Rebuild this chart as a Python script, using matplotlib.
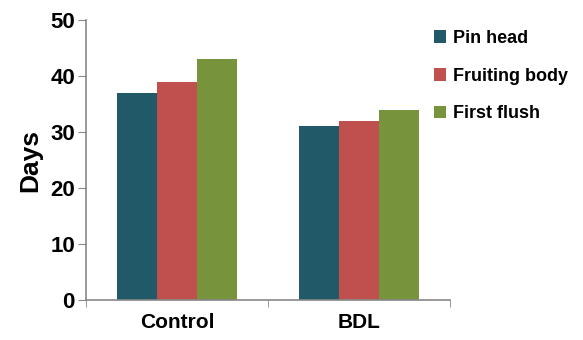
import matplotlib
matplotlib.use("Agg")
import matplotlib.pyplot as plt
import numpy as np

groups = ["Control", "BDL"]
series = ["Pin head", "Fruiting body", "First flush"]
pin_head = [37, 31]
fruiting_body = [39, 32]
first_flush = [43, 34]
colors = ["#215968", "#C0504D", "#77933C"]

plt.rcParams['font.family'] = ['Liberation Sans', 'DejaVu Sans']
plt.rcParams['font.weight'] = 'bold'

fig = plt.figure(figsize=(5.83, 3.4), dpi=100)
ax = fig.add_axes([0.1475, 0.1176, 0.6245, 0.8235])

x = np.arange(len(groups))
w = 0.22
for i, (vals, name) in enumerate(zip([pin_head, fruiting_body, first_flush], series)):
    ax.bar(x + (i - 1) * w, vals, width=w, color=colors[i], label=name)

ax.set_xlim(-0.5, 1.5)
ax.set_ylim(0, 50)
ax.set_yticks(range(0, 51, 10))
ax.set_xticks(x)
ax.set_xticklabels(groups, fontsize=15, fontweight='bold')
ax.set_xticks([-0.5, 0.5, 1.5], minor=True)
ax.tick_params(axis='x', which='major', length=0, pad=9)
ax.tick_params(axis='x', which='minor', length=5, color='#888888', direction='out')
ax.tick_params(axis='y', length=6, color='#888888', labelsize=16, pad=2)
for lab in ax.get_yticklabels():
    lab.set_fontweight('bold')
ax.set_ylabel("Days", fontsize=19, fontweight='bold', labelpad=6)

for s in ['top', 'right']:
    ax.spines[s].set_visible(False)
for s in ['left', 'bottom']:
    ax.spines[s].set_color('#888888')
    ax.spines[s].set_linewidth(1.2)

leg = ax.legend(loc='upper left', bbox_to_anchor=(0.955, 0.965), frameon=False,
                fontsize=13, handlelength=0.7, handleheight=0.7, handletextpad=0.35,
                labelspacing=1.15, borderaxespad=0, borderpad=0)
for t in leg.get_texts():
    t.set_fontweight('bold')

fig.savefig("out.png", dpi=100)
